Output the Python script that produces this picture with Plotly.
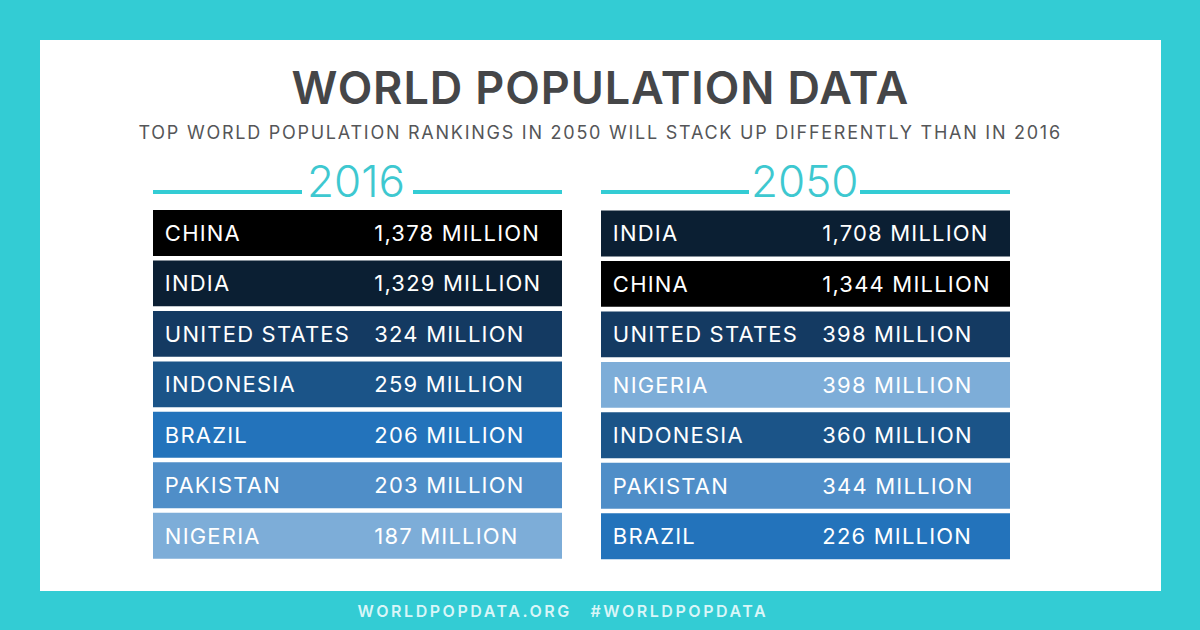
import plotly.graph_objects as go

# Data
countries_2016 = ['CHINA', 'INDIA', 'UNITED STATES', 'INDONESIA', 'BRAZIL', 'PAKISTAN', 'NIGERIA']
millions_2016 = [1378, 1329, 324, 259, 206, 203, 187]
countries_2050 = ['INDIA', 'CHINA', 'UNITED STATES', 'NIGERIA', 'INDONESIA', 'PAKISTAN', 'BRAZIL']
millions_2050 = [1708, 1344, 398, 398, 360, 344, 226]

country_colors = {
    'CHINA': '#000000',
    'INDIA': '#0b1f33',
    'UNITED STATES': '#143a62',
    'INDONESIA': '#1b5488',
    'BRAZIL': '#2373bb',
    'PAKISTAN': '#4f8ec8',
    'NIGERIA': '#7dadd8',
}

W, H = 1200, 630
TEAL = '#33ccd4'
FONT = 'Inter'


def px(x):
    return x / W


def py(y):
    return 1 - y / H


def add_panel(fig, countries, millions, xname, yname):
    # Rows are all the same length, the number is only written on them
    fig.add_trace(go.Bar(
        x=[1] * len(countries),
        y=countries,
        orientation='h',
        marker=dict(color=[country_colors[c] for c in countries], line_width=0),
        xaxis=xname,
        yaxis=yname,
        hoverinfo='skip',
    ))
    fig.add_trace(go.Scatter(
        x=[0.029] * len(countries),
        y=countries,
        mode='text',
        text=countries,
        textposition='middle right',
        textfont=dict(family=FONT, size=22, color='white'),
        xaxis=xname,
        yaxis=yname,
        hoverinfo='skip',
    ))
    fig.add_trace(go.Scatter(
        x=[0.541] * len(countries),
        y=countries,
        mode='text',
        text=[f'{m:,} MILLION' for m in millions],
        textposition='middle right',
        textfont=dict(family=FONT, size=22, color='white'),
        xaxis=xname,
        yaxis=yname,
        hoverinfo='skip',
    ))


fig = go.Figure()
add_panel(fig, countries_2016, millions_2016, 'x', 'y')
add_panel(fig, countries_2050, millions_2050, 'x2', 'y2')


def rule(x0, x1):
    return dict(type='line', xref='paper', yref='paper',
                x0=px(x0), x1=px(x1), y0=py(192), y1=py(192),
                line=dict(color=TEAL, width=4), layer='above')


shapes = [
    dict(type='rect', xref='paper', yref='paper', x0=px(40), x1=px(1161), y0=py(40), y1=py(591),
         fillcolor='white', line_width=0, layer='below'),
    rule(153, 302), rule(413, 562), rule(601, 749), rule(860, 1010),
]


def label(text, x, y, size, color, weight=400):
    return dict(text=text, xref='paper', yref='paper', x=px(x), y=py(y),
                xanchor='center', yanchor='middle', showarrow=False,
                font=dict(family=FONT, size=size, color=color, weight=weight))


annotations = [
    label('WORLD POPULATION DATA', 600, 88, 45, '#454648', 600),
    label('TOP WORLD POPULATION RANKINGS IN 2050 WILL STACK UP DIFFERENTLY THAN IN 2016', 600, 132, 18, '#555658'),
    label('2016', 356, 181, 44, '#3ec8d0', 300),
    label('2050', 805, 181, 44, '#3ec8d0', 300),
    label('WORLDPOPDATA.ORG', 464, 611, 16, '#d9f6f8', 600),
    label('#WORLDPOPDATA', 679, 611, 16, '#d9f6f8', 600),
]

fig.update_layout(
    width=W,
    height=H,
    margin=dict(l=0, r=0, t=0, b=0),
    paper_bgcolor=TEAL,
    plot_bgcolor='rgba(0,0,0,0)',
    showlegend=False,
    bargap=0.09,
    shapes=shapes,
    annotations=annotations,
    xaxis=dict(domain=[px(153), px(562)], range=[0, 1], visible=False, fixedrange=True),
    xaxis2=dict(domain=[px(601), px(1010)], range=[0, 1], visible=False, fixedrange=True),
    yaxis=dict(domain=[py(561), py(207.7)], autorange='reversed', visible=False, anchor='x',
               categoryorder='array', categoryarray=countries_2016, fixedrange=True),
    yaxis2=dict(domain=[py(561.5), py(208.2)], autorange='reversed', visible=False, anchor='x2',
                categoryorder='array', categoryarray=countries_2050, fixedrange=True),
)

# plotly has no letter spacing, so it goes in as css after the plot is drawn
css = """
body{margin:0;overflow:hidden}
.textpoint text{letter-spacing:1.2px;transform:translateY(2.5px)}
.annotation[data-index="0"] text{letter-spacing:0.9px}
.annotation[data-index="1"] text{letter-spacing:1.75px}
.annotation[data-index="4"] text,.annotation[data-index="5"] text{letter-spacing:2.55px}
"""
post_script = "var s=document.createElement('style');s.textContent=`" + css + "`;document.head.appendChild(s);"

fig.write_html('out.html', config=dict(displayModeBar=False), post_script=post_script)
